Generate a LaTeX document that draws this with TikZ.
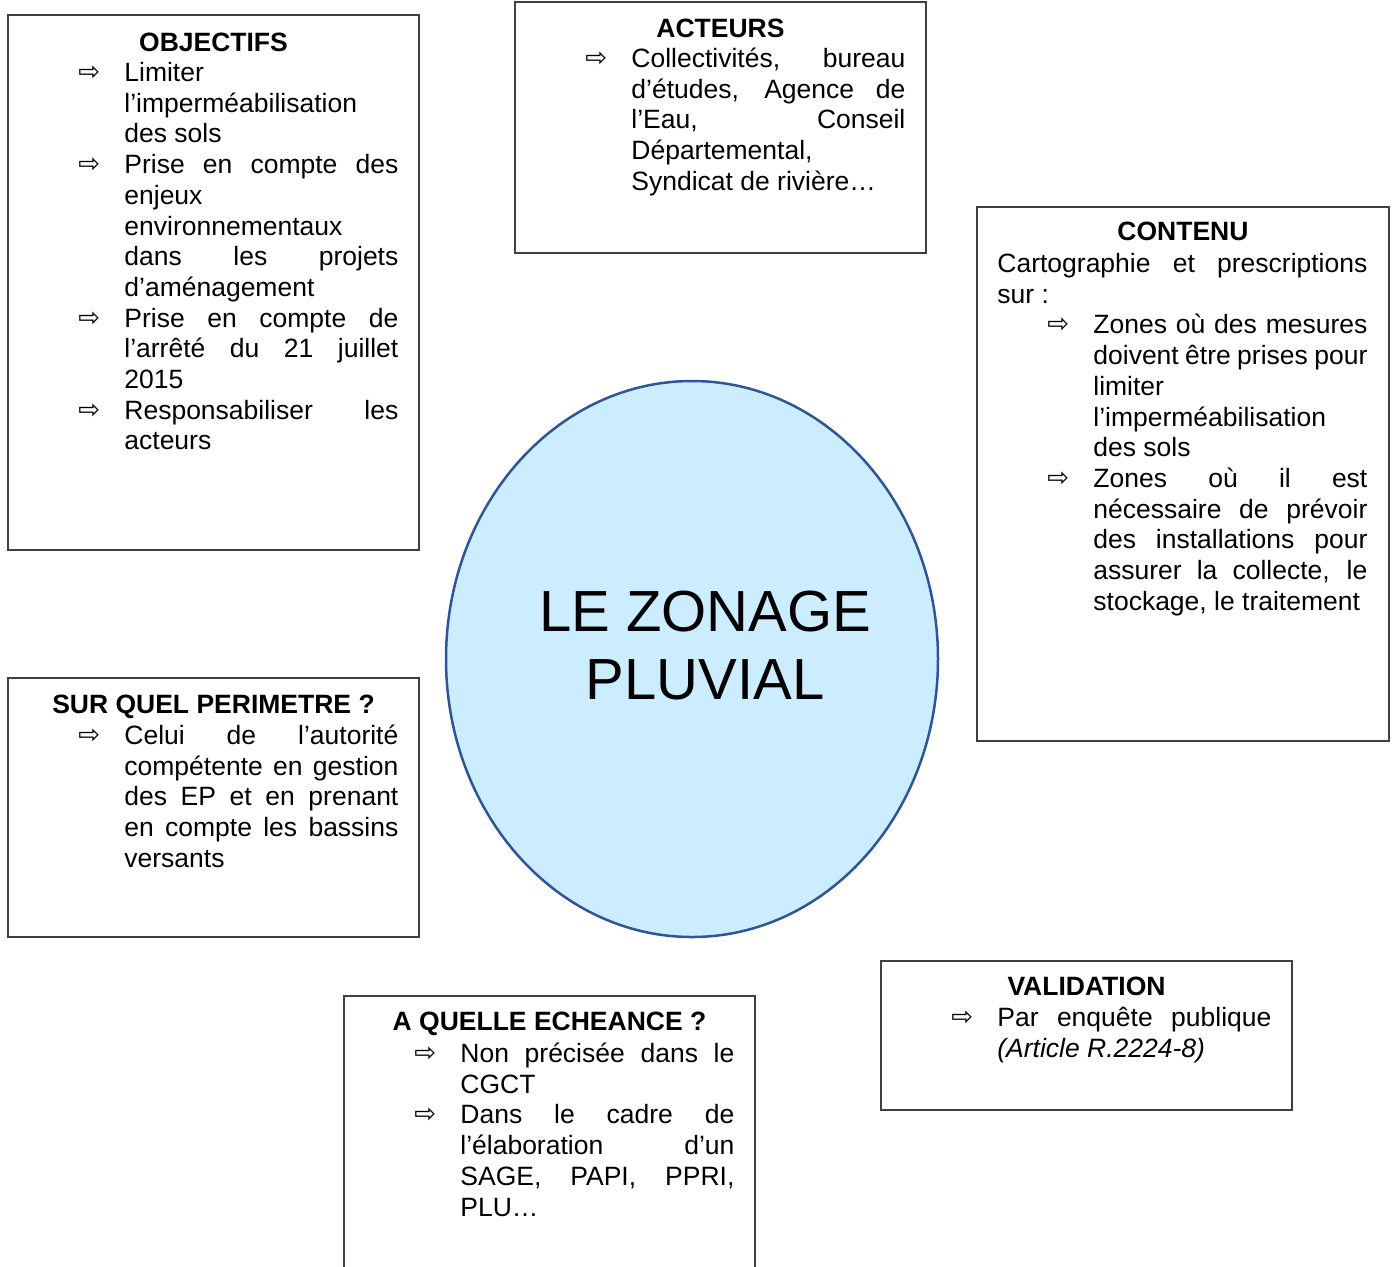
\documentclass[tikz,border=0pt]{standalone}
\usepackage{fontspec}
\setmainfont{Liberation Sans}
\newfontfamily\symb{DejaVu Sans}
\usetikzlibrary{shapes.geometric,fit}
\hyphenpenalty=10000
\exhyphenpenalty=10000
\hbadness=10000
\definecolor{bleuclair}{HTML}{CCECFF}
\definecolor{bleufonce}{HTML}{2F5597}
\definecolor{gristrait}{HTML}{404040}
% puce fleche avec retrait (un paragraphe par puce)
\newcommand{\fleche}[1]{\hangindent=23pt\hangafter=1\noindent\makebox[23pt][l]{\raisebox{0.5pt}{\symb\fontsize{13pt}{13pt}\selectfont ⇨}}#1\par}
\tikzset{
  cadre/.style={draw=gristrait, line width=0.75pt, inner sep=0pt},
  titre/.style={anchor=base, inner sep=0pt, font=\fontsize{13.25pt}{15.35pt}\selectfont\bfseries},
  corps/.style={anchor=base west, inner sep=0pt, text width=160pt, align=justify, font=\fontsize{13.25pt}{15.35pt}\selectfont},
}
\begin{document}
\begin{tikzpicture}[x=0.5pt,y=0.5pt,yscale=-1,xscale=1]
    \useasboundingbox (0,0) rectangle (1394,1266);
    \clip (0,0) rectangle (1394,1266);
    %Shape: Ellipse
    \node [ellipse, draw=bleufonce, fill=bleuclair, line width=1.25pt, inner sep=0pt, minimum width=246pt, minimum height=278pt] (zonage) at (692,659) {};
    % Text Node
    \node [align=center, inner sep=0pt, font=\fontsize{29pt}{34pt}\selectfont] (zonage-txt) at (705,646) {LE ZONAGE\\PLUVIAL};

    %Shape: Rectangle
    \node [cadre, fit={(8,15) (419,550)}] (objectifs) {};
    % Text Node
    \node [titre] (objectifs-titre) at (213.5,51.5) {OBJECTIFS};
    % Text Node
    \node [corps] (objectifs-txt) at (78,81.5) {%
    \fleche{Limiter\newline l’imperméabilisation\newline des sols}%
    \fleche{Prise en compte des\linebreak enjeux\newline environnementaux\newline dans les projets\linebreak d’aménagement}%
    \fleche{Prise en compte de\linebreak l’arrêté du 21 juillet\linebreak 2015}%
    \fleche{Responsabiliser les\linebreak acteurs}};

    %Shape: Rectangle
    \node [cadre, fit={(515,2) (926,253)}] (acteurs) {};
    % Text Node
    \node [titre] (acteurs-titre) at (720.5,37.5) {ACTEURS};
    % Text Node
    \node [corps] (acteurs-txt) at (585,67.5) {%
    \fleche{Collectivités, bureau\linebreak d’études, Agence de\linebreak l’Eau, Conseil\linebreak Départemental,\newline Syndicat de rivière…}};

    %Shape: Rectangle
    \node [cadre, fit={(977,207) (1389,741)}] (contenu) {};
    % Text Node
    \node [titre] (contenu-titre) at (1183,240.5) {CONTENU};
    % Text Node
    \node [corps, text width=185pt] (contenu-txt) at (997,272.5) {%
    \noindent Cartographie et prescriptions\linebreak sur :\par
    \leftskip=25pt
    \fleche{Zones où des mesures\linebreak doivent être prises pour\linebreak limiter\newline l’imperméabilisation\newline des sols}%
    \fleche{Zones où il est\linebreak nécessaire de prévoir\linebreak des installations pour\linebreak assurer la collecte, le\linebreak stockage, le traitement}};

    %Shape: Rectangle
    \node [cadre, fit={(8,678) (419,937)}] (perimetre) {};
    % Text Node
    \node [titre] (perimetre-titre) at (213.5,713.5) {SUR QUEL PERIMETRE ?};
    % Text Node
    \node [corps] (perimetre-txt) at (78,744.5) {%
    \fleche{Celui de l’autorité\linebreak compétente en gestion\linebreak des EP et en prenant\linebreak en compte les bassins\linebreak versants}};

    %Shape: Rectangle (ouvert en bas)
    \node [cadre, fit={(344,996) (755,1300)}] (echeance) {};
    % Text Node
    \node [titre] (echeance-titre) at (549.5,1030.5) {A QUELLE ECHEANCE ?};
    % Text Node
    \node [corps] (echeance-txt) at (414,1062.5) {%
    \fleche{Non précisée dans le\linebreak CGCT}%
    \fleche{Dans le cadre de\linebreak l’élaboration d’un\linebreak SAGE, PAPI, PPRI,\linebreak PLU…}};

    %Shape: Rectangle
    \node [cadre, fit={(881,961) (1292,1110)}] (validation) {};
    % Text Node
    \node [titre] (validation-titre) at (1086.5,995.5) {VALIDATION};
    % Text Node
    \node [corps] (validation-txt) at (951,1026.5) {%
    \fleche{Par enquête publique\linebreak \textit{(Article R.2224-8)}}};

\end{tikzpicture}
\end{document}
